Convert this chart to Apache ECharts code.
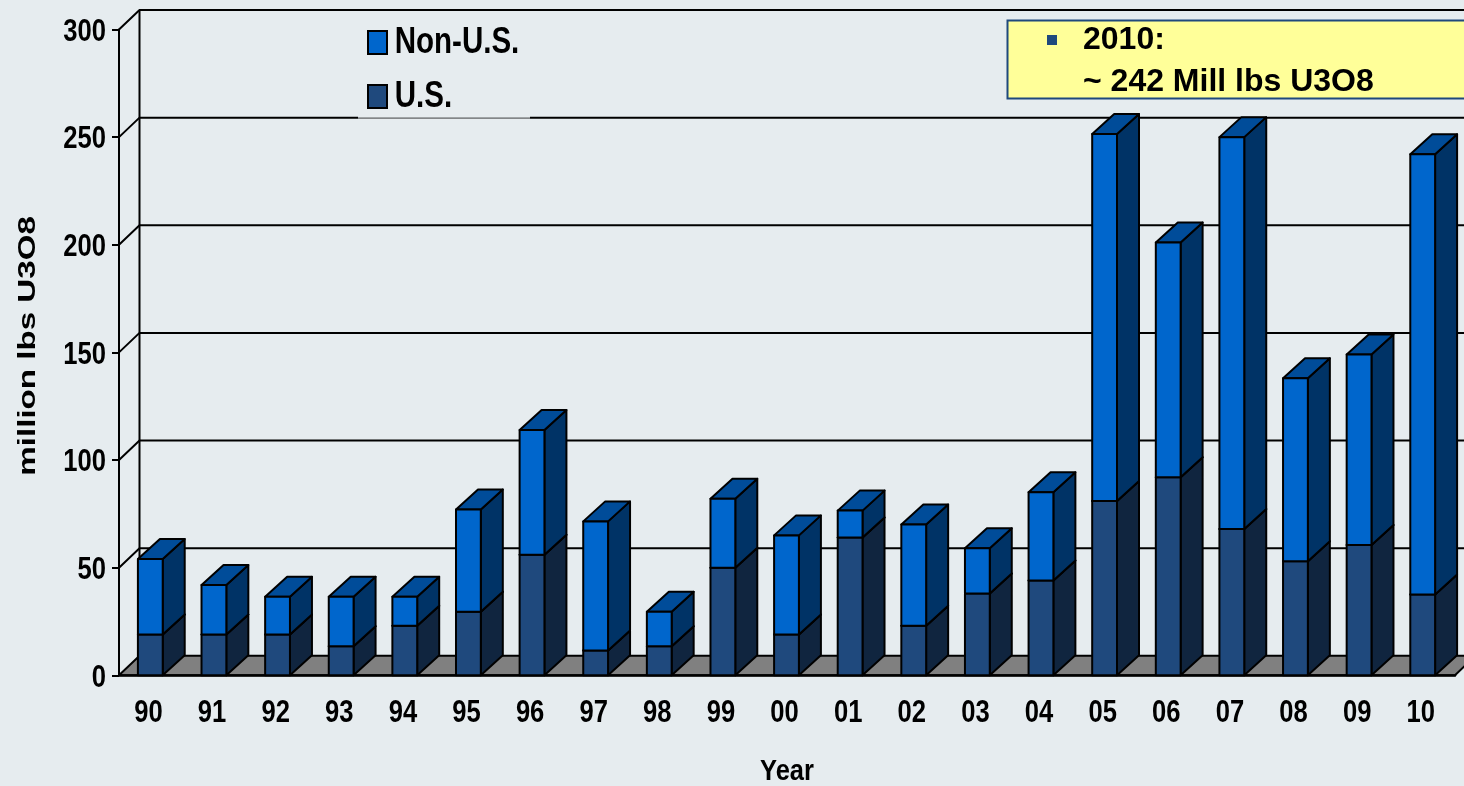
<!DOCTYPE html>
<html>
<head>
<meta charset="utf-8">
<style>html,body{margin:0;padding:0;background:#E6ECEF;overflow:hidden}#c{width:1464px;height:786px}</style>
<script src="https://cdn.jsdelivr.net/npm/echarts@6/dist/echarts.min.js"></script>
</head>
<body>
<div id="c"></div>
<script>
const years = ['90','91','92','93','94','95','96','97','98','99','00','01','02','03','04','05','06','07','08','09','10'];
const usValues = [19,19,19,13.5,23,29.5,56,11.5,13.5,50,19,64,23,38,44,81,92,68,53,60.5,37.5];
const nonUsValues = [35,23,17.5,23,13.5,47.5,58,60,16,32,46,12.5,47,21,41,170.5,109,182,85,88.5,204.5];
const yTicks = [0,50,100,150,200,250,300];

const FONT = '"Liberation Sans",Arial,sans-serif';
const WALL_DX = 20.5, WALL_DY = 19.5, BAR_DX = 22, BAR_DY = 20;
const LINE = '#000';

function wallItem(params, api) {
  const cs = params.coordSys;
  const v = api.value(1);
  const y = api.coord([0, v])[1];
  const xl = cs.x, xr = cs.x + cs.width;
  const kids = [];
  if (v === 0) {
    kids.push({type:'polygon', shape:{points:[[xl,y],[xl+WALL_DX,y-WALL_DY],[xr+WALL_DX,y-WALL_DY],[xr,y]]},
      style:{fill:'#808080', stroke:LINE, lineWidth:2}});
    const top = api.coord([0, 300])[1];
    kids.push({type:'line', shape:{x1:xl+WALL_DX,y1:y-WALL_DY,x2:xl+WALL_DX,y2:top-WALL_DY}, style:{stroke:LINE, lineWidth:2}});
  } else {
    kids.push({type:'polyline', shape:{points:[[xl,y],[xl+WALL_DX,y-WALL_DY],[xr+WALL_DX,y-WALL_DY]]},
      style:{stroke:LINE, lineWidth:2, fill:null}});
  }
  return {type:'group', children:kids};
}

function barItem(colors) {
  return function (params, api) {
    const cat = api.value(0), lo = api.value(1), hi = api.value(2);
    const cx = api.coord([cat, 0])[0];
    const w = api.size([1, 0])[0] * 0.39;
    const x0 = cx - w / 2 - 0.5, x1 = cx + w / 2 - 0.5;
    const yLo = api.coord([cat, lo])[1], yHi = api.coord([cat, hi])[1];
    const st = f => ({fill:f, stroke:LINE, lineWidth:2, lineJoin:'round'});
    return {type:'group', children:[
      {type:'polygon', shape:{points:[[x1,yLo],[x1+BAR_DX,yLo-BAR_DY],[x1+BAR_DX,yHi-BAR_DY],[x1,yHi]]}, style:st(colors.side)},
      {type:'polygon', shape:{points:[[x0,yHi],[x0+BAR_DX,yHi-BAR_DY],[x1+BAR_DX,yHi-BAR_DY],[x1,yHi]]}, style:st(colors.top)},
      {type:'polygon', shape:{points:[[x0,yLo],[x0,yHi],[x1,yHi],[x1,yLo]]}, style:st(colors.front)}
    ]};
  };
}

const usData = years.map((y,i)=>[i,0,usValues[i]]);
const nonUsData = years.map((y,i)=>[i,usValues[i],usValues[i]+nonUsValues[i]]);
const legendIcon = {borderColor:'#000', borderWidth:2};

const chart = echarts.init(document.getElementById('c'), null, {renderer:'canvas'});
chart.setOption({
  animation:false,
  backgroundColor:'#E6ECEF',
  grid:{left:119, right:9, top:29.5, bottom:110.7, containLabel:false, outerBoundsMode:'none'},
  legend:{
    orient:'vertical', left:358, top:12, padding:[10,10,3,9], itemGap:13,
    itemWidth:19, itemHeight:23,
    textStyle:{fontFamily:FONT, fontWeight:'bold', fontSize:36, color:'#000', lineHeight:41},
    data:[{name:'Non-U.S.', icon:'rect', itemStyle:legendIcon},{name:'U.S.', icon:'rect', itemStyle:legendIcon}],
    z:20
  },
  xAxis:{
    type:'category', data:years, name:'Year', nameLocation:'middle', nameGap:81,
    nameTextStyle:{fontFamily:FONT, fontWeight:'bold', fontSize:30, color:'#000'},
    axisLine:{lineStyle:{color:'#000', width:2.5}, onZero:false},
    axisTick:{length:9, lineStyle:{color:'#000', width:2}},
    axisLabel:{fontFamily:FONT, fontWeight:'bold', fontSize:32, color:'#000', margin:22, padding:[0,6,0,0], interval:0},
    splitLine:{show:false}, z:10
  },
  yAxis:{
    type:'value', min:0, max:300, interval:50, name:'million lbs U3O8', nameLocation:'middle', nameRotate:90, nameGap:79,
    nameTextStyle:{fontFamily:FONT, fontWeight:'bold', fontSize:24, color:'#000'},
    axisLine:{show:true, lineStyle:{color:'#000', width:2}},
    axisTick:{show:true, length:7, lineStyle:{color:'#000', width:2}},
    axisLabel:{fontFamily:FONT, fontWeight:'bold', fontSize:32, color:'#000', margin:13, padding:[5,0,0,0]},
    splitLine:{show:false}, z:10
  },
  series:[
    {type:'custom', name:'walls', silent:true, clip:false, z:1, renderItem:wallItem,
      data:yTicks.map(v=>[0,v]), encode:{x:0,y:1}},
    {type:'custom', name:'U.S.', clip:false, z:15, color:'#1F497D', itemStyle:{color:'#1F497D'},
      renderItem:barItem({front:'#1F497D', side:'#10253F', top:'#17365D'}),
      data:usData, encode:{x:0,y:[1,2]}},
    {type:'custom', name:'Non-U.S.', clip:false, z:16, color:'#0066CC', itemStyle:{color:'#0066CC'},
      renderItem:barItem({front:'#0066CC', side:'#003366', top:'#004C99'}),
      data:nonUsData, encode:{x:0,y:[1,2]}}
  ],
  graphic:[
    {type:'rect', z:5, shape:{x:358,y:12,width:172,height:105.5}, style:{fill:'#E6ECEF'}},
    {type:'line', z:5, shape:{x1:358,y1:118,x2:530,y2:118}, style:{stroke:'#CDD2D5', lineWidth:1}},
    {type:'rect', z:30, shape:{x:1007.5,y:20.5,width:460,height:78}, style:{fill:'#FFFF99', stroke:'#1F497D', lineWidth:2}},
    {type:'rect', z:31, shape:{x:1047,y:35,width:10,height:10}, style:{fill:'#1F497D'}},
    {type:'text', z:31, style:{x:1083,y:40,text:'2010:', fill:'#000', font:'bold 32px '+FONT, verticalAlign:'middle'}},
    {type:'text', z:31, style:{x:1083,y:82.5,text:'~ 242 Mill lbs U3O8', fill:'#000', font:'bold 32px '+FONT, verticalAlign:'middle'}}
  ]
});

// The reference uses a condensed face for the axis and legend text and a stretched one for the y title.
const xText = new Set(years);
const yText = new Set(yTicks.map(String));
const zr = chart.getZr();
zr.storage.traverse(function (el) {
  if (el.type !== 'text' || !el.style || el.z >= 30) return;
  const t = String(el.style.text);
  if (xText.has(t)) { el.scaleX = 0.8; }
  else if (yText.has(t)) { el.scaleX = 0.8; el.y += 2.5; }
  else if (t === 'Year') { el.scaleX = 0.85; }
  else if (t === 'Non-U.S.' || t === 'U.S.') { el.scaleX = 0.82; el.x += 7; el.y += 1; }
  else if (t === 'million lbs U3O8') { el.scaleX = 1.38; el.y -= 6.5; }
  else return;
  el.markRedraw();
});
zr.refresh();
</script>
</body>
</html>
